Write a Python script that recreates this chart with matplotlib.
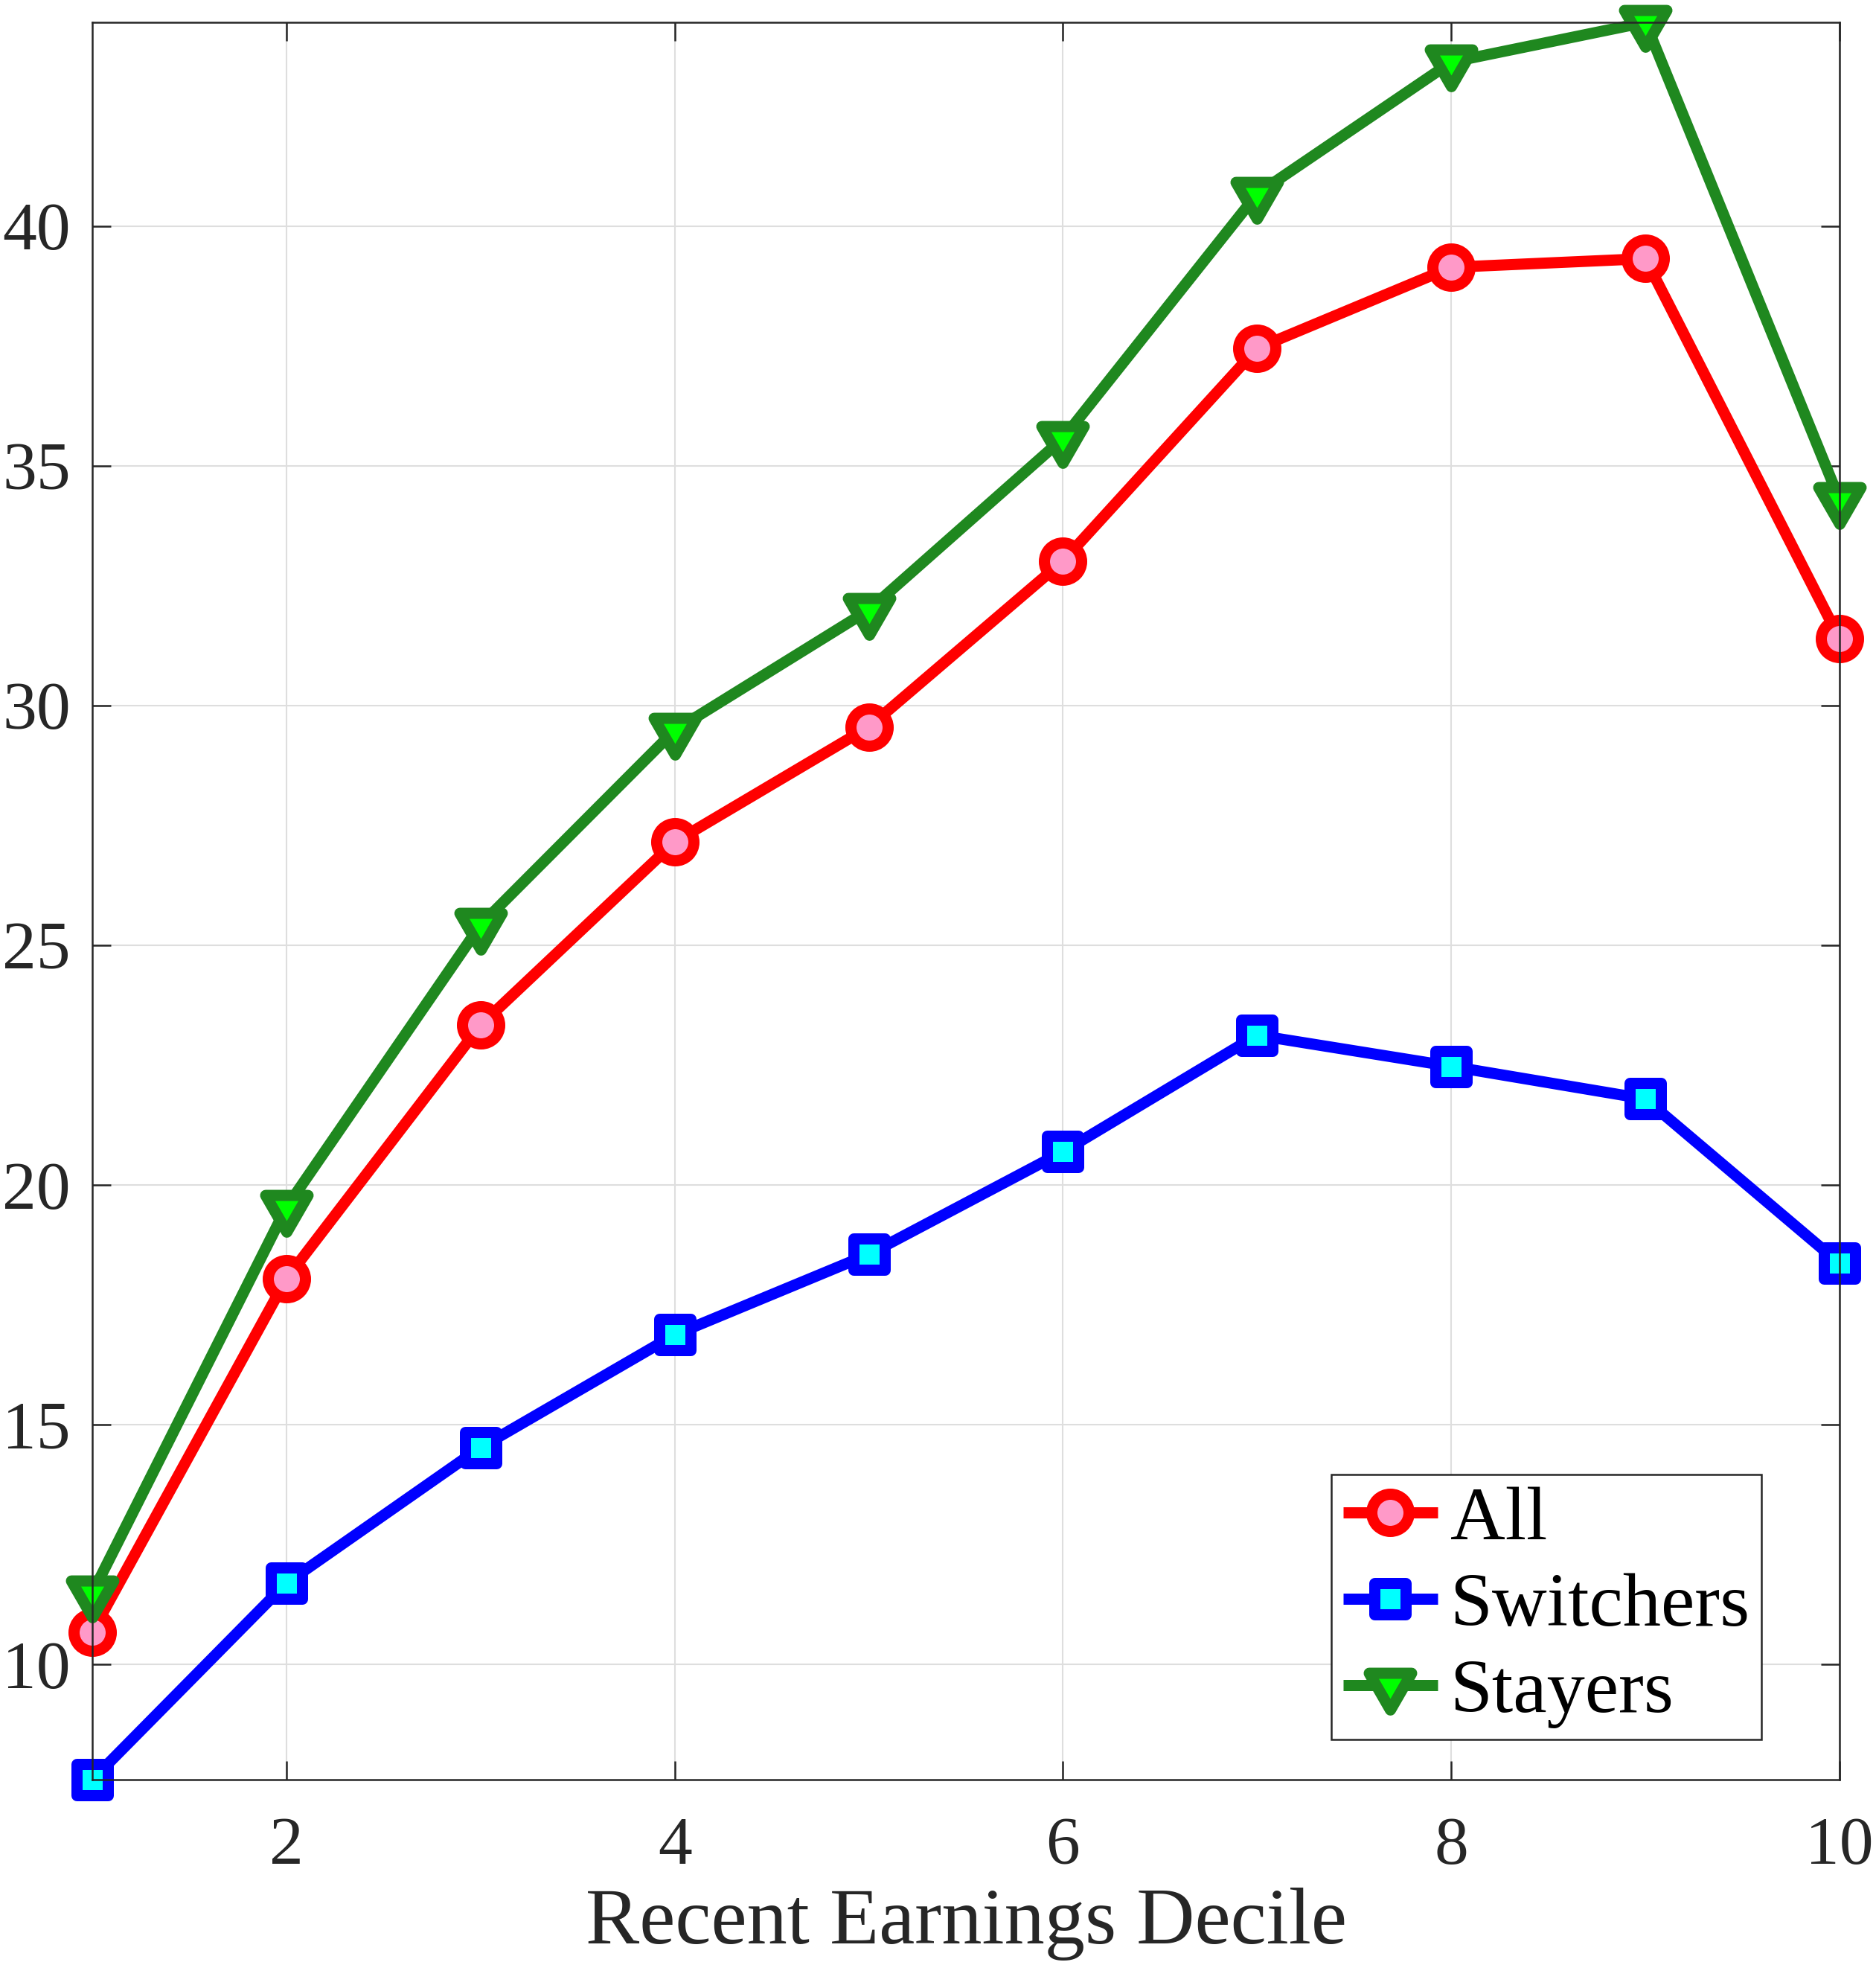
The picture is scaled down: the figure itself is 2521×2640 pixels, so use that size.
import numpy as np
import matplotlib
matplotlib.use("Agg")
import matplotlib.pyplot as plt
from matplotlib.markers import MarkerStyle
from matplotlib.path import Path

# deciles and series
deciles = [1, 2, 3, 4, 5, 6, 7, 8, 9, 10]
all_workers = [10.67, 18.04, 23.33, 27.15, 29.55, 33.01, 37.45, 39.14, 39.32, 31.39]
switchers = [7.59, 11.69, 14.52, 16.87, 18.55, 20.69, 23.12, 22.47, 21.79, 18.36]
stayers = [11.48, 19.53, 25.42, 29.48, 31.99, 35.57, 40.67, 43.42, 44.25, 34.29]

series_names = ["All", "Switchers", "Stayers"]
x_ticks = [2, 4, 6, 8, 10]
y_ticks = [10, 15, 20, 25, 30, 35, 40]
x_label = "Recent Earnings Decile"

plt.rcParams['font.family'] = ['Liberation Serif', 'DejaVu Serif']
dark = '#262626'

fig = plt.figure(figsize=(2521 / 300, 2640 / 300), dpi=300)
ax = fig.add_axes([0.04919, 0.09432, 0.93138, 0.89432])

# equilateral down-triangle centred on its centroid, closed so every edge is stroked
tri_path = Path([(-1, 0.577), (1, 0.577), (0, -1.155), (-1, 0.577)],
                [Path.MOVETO, Path.LINETO, Path.LINETO, Path.CLOSEPOLY])
tri = MarkerStyle(tri_path, joinstyle='round')
sq = MarkerStyle('s', joinstyle='round')
circ = MarkerStyle('o', joinstyle='round')

common = dict(linewidth=3.6, markeredgewidth=3.6, clip_on=False,
              solid_joinstyle='round', solid_capstyle='butt')
ax.plot(deciles, all_workers, color='#ff0000', marker=circ, markersize=12,
        markerfacecolor='#ff99c8', markeredgecolor='#ff0000',
        label=series_names[0], **common)
ax.plot(deciles, switchers, color='#0000ff', marker=sq, markersize=10,
        markerfacecolor='#00ffff', markeredgecolor='#0000ff',
        label=series_names[1], **common)
ax.plot(deciles, stayers, color='#1f881f', marker=tri, markersize=15.8,
        markerfacecolor='#00ff00', markeredgecolor='#1f881f',
        label=series_names[2], **common)

ax.set_xlim(1, 10)
ax.set_ylim(min(switchers), max(stayers))
ax.set_xticks(x_ticks)
ax.set_yticks(y_ticks)

ax.set_axisbelow(True)
ax.grid(True, color='#dedede', linewidth=0.5)
for s in ax.spines.values():
    s.set_color(dark)
    s.set_linewidth(0.6)
ax.tick_params(axis='both', direction='in', length=6, width=0.6, color=dark,
               labelcolor=dark, labelsize=22, top=True, right=True)
ax.tick_params(axis='x', pad=12)
ax.tick_params(axis='y', pad=7)

ax.set_xlabel(x_label, fontsize=26, color=dark, labelpad=3)

leg = ax.legend(loc='lower right', bbox_to_anchor=(0.9553, 0.0229),
                borderaxespad=0, fontsize=24.5, handlelength=1.25,
                handletextpad=0.16, labelspacing=0.22, borderpad=0.15,
                fancybox=False, framealpha=1, edgecolor=dark)
leg.get_frame().set_linewidth(0.6)

fig.savefig('out.png', dpi=300)
